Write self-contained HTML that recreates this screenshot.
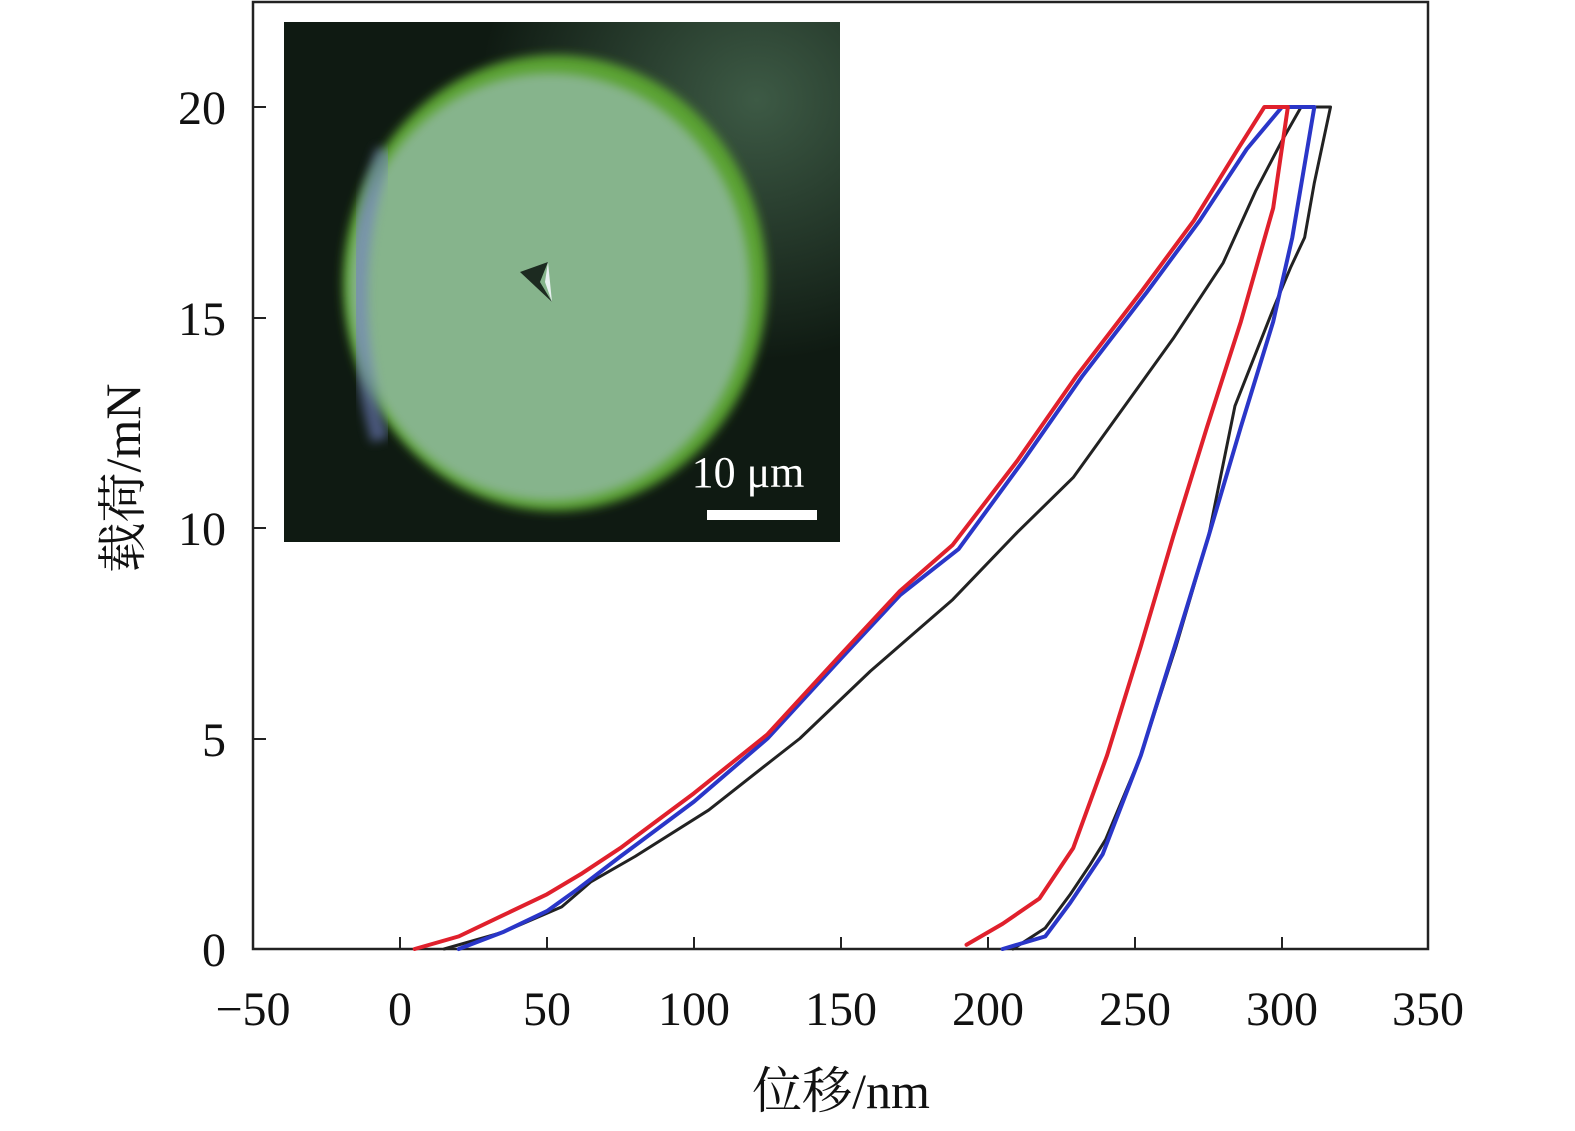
<!DOCTYPE html>
<html><head><meta charset="utf-8"><style>
html,body{margin:0;padding:0;background:#fff;}
svg{display:block;}
text{font-family:"Liberation Serif","Noto Serif CJK SC",serif;fill:#111;}
</style></head><body>
<svg width="1575" height="1131" viewBox="0 0 1575 1131" xmlns="http://www.w3.org/2000/svg">
<defs>
<radialGradient id="bg" cx="0.85" cy="0.15" r="0.5">
<stop offset="0" stop-color="#3d5a45"/><stop offset="1" stop-color="#0f1a12"/>
</radialGradient>
<filter id="blur"><feGaussianBlur stdDeviation="5"/></filter>
<clipPath id="ic"><rect x="284" y="22" width="556" height="520"/></clipPath>
</defs>
<rect x="253" y="2" width="1175" height="947" fill="none" stroke="#222" stroke-width="2.5"/>
<g clip-path="url(#ic)">
<rect x="284" y="22" width="556" height="520" fill="#142016"/>
<rect x="284" y="22" width="556" height="520" fill="url(#bg)"/>
<ellipse cx="555" cy="283" rx="212" ry="228" fill="#5aa230" filter="url(#blur)"/>
<ellipse cx="550" cy="287" rx="200" ry="214" fill="#86b48c" filter="url(#blur)"/>
<path d="M385,150 Q335,280 380,440" stroke="#6f7fc0" stroke-width="18" fill="none" filter="url(#blur)" opacity="0.6"/>
<path d="M520,272 L548,262 L540,282 L552,302 Z" fill="#1c2a20"/>
<path d="M548,262 L552,302 L545,282 Z" fill="#e8f0f0"/>
<text x="748" y="487" font-size="44" text-anchor="middle" style="fill:#fff">10 μm</text>
<rect x="707" y="510" width="110" height="10" fill="#fff"/>
</g>
<g stroke="#222" stroke-width="2">
<line x1="253" y1="739" x2="266" y2="739"/><line x1="253" y1="528" x2="266" y2="528"/>
<line x1="253" y1="318" x2="266" y2="318"/><line x1="253" y1="107" x2="266" y2="107"/>
<line x1="400" y1="949" x2="400" y2="937"/><line x1="547" y1="949" x2="547" y2="937"/>
<line x1="694" y1="949" x2="694" y2="937"/><line x1="841" y1="949" x2="841" y2="937"/>
<line x1="988" y1="949" x2="988" y2="937"/><line x1="1135" y1="949" x2="1135" y2="937"/>
<line x1="1282" y1="949" x2="1282" y2="937"/>
</g>
<g font-size="48" text-anchor="end">
<text x="226" y="966">0</text><text x="226" y="756">5</text><text x="226" y="545">10</text>
<text x="226" y="335">15</text><text x="226" y="124">20</text>
</g>
<g font-size="48" text-anchor="middle">
<text x="253" y="1025">−50</text><text x="400" y="1025">0</text><text x="547" y="1025">50</text>
<text x="694" y="1025">100</text><text x="841" y="1025">150</text><text x="988" y="1025">200</text>
<text x="1135" y="1025">250</text><text x="1282" y="1025">300</text><text x="1428" y="1025">350</text>
</g>
<text x="841" y="1108" font-size="50" text-anchor="middle">位移/nm</text>
<text transform="translate(140,478) rotate(-90)" font-size="50" text-anchor="middle">载荷/mN</text>
<g transform="translate(400,949) scale(2.94,-42.1)" fill="none" stroke-linejoin="round" stroke-linecap="round">
<path vector-effect="non-scaling-stroke" stroke="#222" stroke-width="3" d="M15,0 L35,0.4 L55,1 L65,1.6 L80,2.2 L105,3.3 L125,4.4 L136,5 L160,6.6 L188,8.3 L210,9.9 L229,11.2 L263,14.5 L280,16.3 L291,18 L300,19.2 L306.5,20 L316.5,20 L311,18.2 L307.7,16.9 L303,16.2 L297,15.2 L284,12.9 L275,9.8 L264,7.2 L252,4.6 L240,2.6 L234.7,2 L228,1.3 L219.5,0.5 L208.5,0"/>
<path vector-effect="non-scaling-stroke" stroke="#2a36c8" stroke-width="4" d="M20,0 L35,0.4 L50,0.9 L60,1.4 L75,2.2 L100,3.5 L125,5 L150,6.9 L170,8.4 L190,9.5 L212,11.6 L232,13.6 L254,15.6 L272,17.3 L288,19 L300,20 L311,20 L303.5,16.9 L297,14.9 L286,12.4 L275,9.8 L263.6,7.2 L252,4.6 L239,2.25 L228,1.1 L219.5,0.3 L205,0"/>
<path vector-effect="non-scaling-stroke" stroke="#e0202c" stroke-width="4" d="M5,0 L20,0.3 L35,0.8 L50,1.3 L62,1.8 L75,2.4 L100,3.7 L125,5.1 L150,7 L170,8.5 L188,9.6 L210,11.6 L230,13.6 L252,15.6 L270,17.3 L285,19 L294,20 L302,20 L297,17.6 L286,14.9 L274.5,12.4 L263,9.8 L252,7.2 L240.5,4.6 L229,2.4 L217.5,1.2 L205,0.6 L192.7,0.1"/>
</g>
</svg>
</body></html>
